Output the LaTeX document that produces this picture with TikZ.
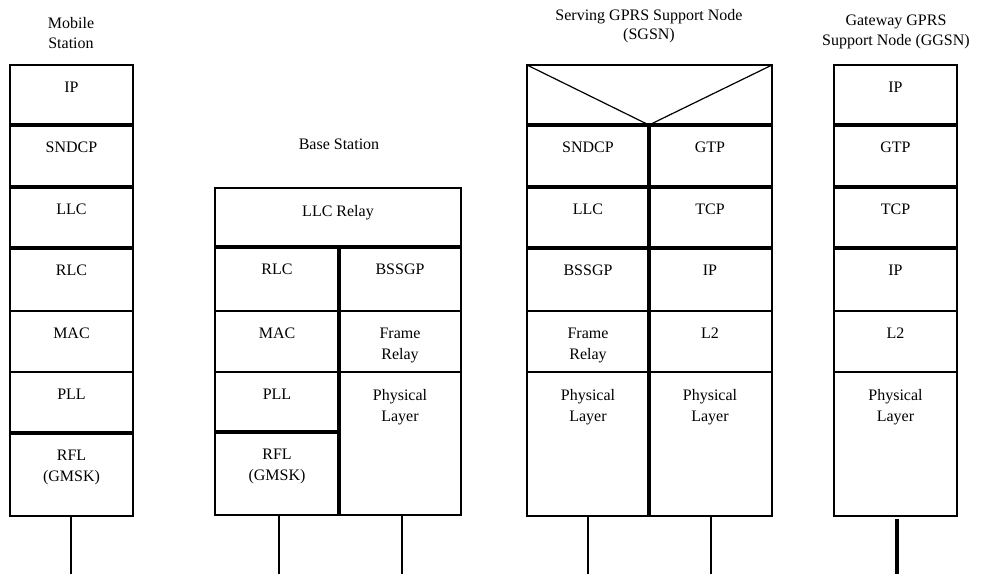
\documentclass[tikz,border=0pt]{standalone}
\usepackage{fontspec}
\setmainfont{Liberation Serif}
\begin{document}
\begin{tikzpicture}[x=1pt,y=-1pt,
  lbl/.style={anchor=north, inner sep=0pt, align=center, font=\fontsize{16}{21}\selectfont},
  ttl/.style={anchor=north, inner sep=0pt, align=center, font=\fontsize{16}{20}\selectfont},
  thinl/.style={line width=1.6pt},
  thickl/.style={line width=3.4pt},
  frame/.style={line width=2.2pt},
  vthin/.style={line width=1.2pt}]
\useasboundingbox (0,0) rectangle (982,574);

% ---------- Mobile Station ----------
\node[ttl] (mst) at (71,17) {Mobile\\Station};
\draw[frame] (10,65) rectangle (133,516);
\foreach \y in {125,187,248,433} \draw[thickl] (10,\y) -- (133,\y);
\foreach \y in {311,372} \draw[thinl] (10,\y) -- (133,\y);
\node[lbl] (ms1) at (71.5,82) {IP};
\node[lbl] (ms2) at (71.5,142) {SNDCP};
\node[lbl] (ms3) at (71.5,204) {LLC};
\node[lbl] (ms4) at (71.5,265) {RLC};
\node[lbl] (ms5) at (71.5,328) {MAC};
\node[lbl] (ms6) at (71.5,389) {PLL};
\node[lbl] (ms7) at (71.5,450) {RFL\\(GMSK)};
\coordinate (msa) at (71,516);
\coordinate (msb) at (71,574);
\draw[thinl] (msa) -- (msb);

% ---------- Base Station ----------
\node[ttl] (bst) at (339,139) {Base Station};
\draw[frame] (215,188) rectangle (461,515);
\draw[thickl] (215,247) -- (461,247);
\draw[thinl] (215,311) -- (461,311);
\draw[thinl] (215,372) -- (461,372);
\draw[thickl] (215,432) -- (339,432);
\draw[thickl] (339,247) -- (339,515);
\node[lbl] (bs1) at (338,205) {LLC Relay};
\node[lbl] (bs2) at (277,264) {RLC};
\node[lbl] (bs3) at (400,264) {BSSGP};
\node[lbl] (bs4) at (277,328) {MAC};
\node[lbl] (bs5) at (400,328) {Frame\\Relay};
\node[lbl] (bs6) at (277,389) {PLL};
\node[lbl] (bs7) at (400,389) {Physical\\Layer};
\node[lbl] (bs8) at (277,449) {RFL\\(GMSK)};
\coordinate (bsa) at (279,515);
\coordinate (bsb) at (279,574);
\coordinate (bsc) at (402,515);
\coordinate (bsd) at (402,574);
\draw[thinl] (bsa) -- (bsb);
\draw[thinl] (bsc) -- (bsd);

% ---------- SGSN ----------
\node[ttl, font=\fontsize{16}{19}\selectfont] (sgt) at (649,9) {Serving GPRS Support Node\\(SGSN)};
\draw[frame] (527,65) rectangle (772,516);
\coordinate (sgtl) at (527,65);
\coordinate (sgtr) at (772,65);
\coordinate (sgm) at (649,125);
\draw[vthin] (sgtl) -- (sgm) -- (sgtr);
\foreach \y in {125,187,248} \draw[thickl] (527,\y) -- (772,\y);
\foreach \y in {311,372} \draw[thinl] (527,\y) -- (772,\y);
\draw[thickl] (649,125) -- (649,516);
\node[lbl] (sg1) at (588,142) {SNDCP};
\node[lbl] (sg2) at (710,142) {GTP};
\node[lbl] (sg3) at (588,204) {LLC};
\node[lbl] (sg4) at (710,204) {TCP};
\node[lbl] (sg5) at (588,265) {BSSGP};
\node[lbl] (sg6) at (710,265) {IP};
\node[lbl] (sg7) at (588,328) {Frame\\Relay};
\node[lbl] (sg8) at (710,328) {L2};
\node[lbl] (sg9) at (588,389) {Physical\\Layer};
\node[lbl] (sg10) at (710,389) {Physical\\Layer};
\coordinate (sga) at (588,516);
\coordinate (sgb) at (588,574);
\coordinate (sgc) at (711,516);
\coordinate (sgd) at (711,574);
\draw[thinl] (sga) -- (sgb);
\draw[thinl] (sgc) -- (sgd);

% ---------- GGSN ----------
\node[ttl] (ggt) at (896,15) {Gateway GPRS\\Support Node (GGSN)};
\draw[frame] (834,65) rectangle (957,516);
\foreach \y in {125,187,248} \draw[thickl] (834,\y) -- (957,\y);
\foreach \y in {311,372} \draw[thinl] (834,\y) -- (957,\y);
\node[lbl] (gg1) at (895.5,82) {IP};
\node[lbl] (gg2) at (895.5,142) {GTP};
\node[lbl] (gg3) at (895.5,204) {TCP};
\node[lbl] (gg4) at (895.5,265) {IP};
\node[lbl] (gg5) at (895.5,328) {L2};
\node[lbl] (gg6) at (895.5,389) {Physical\\Layer};
\coordinate (gga) at (897,519);
\coordinate (ggb) at (897,574);
\draw[thickl] (gga) -- (ggb);
\end{tikzpicture}
\end{document}
